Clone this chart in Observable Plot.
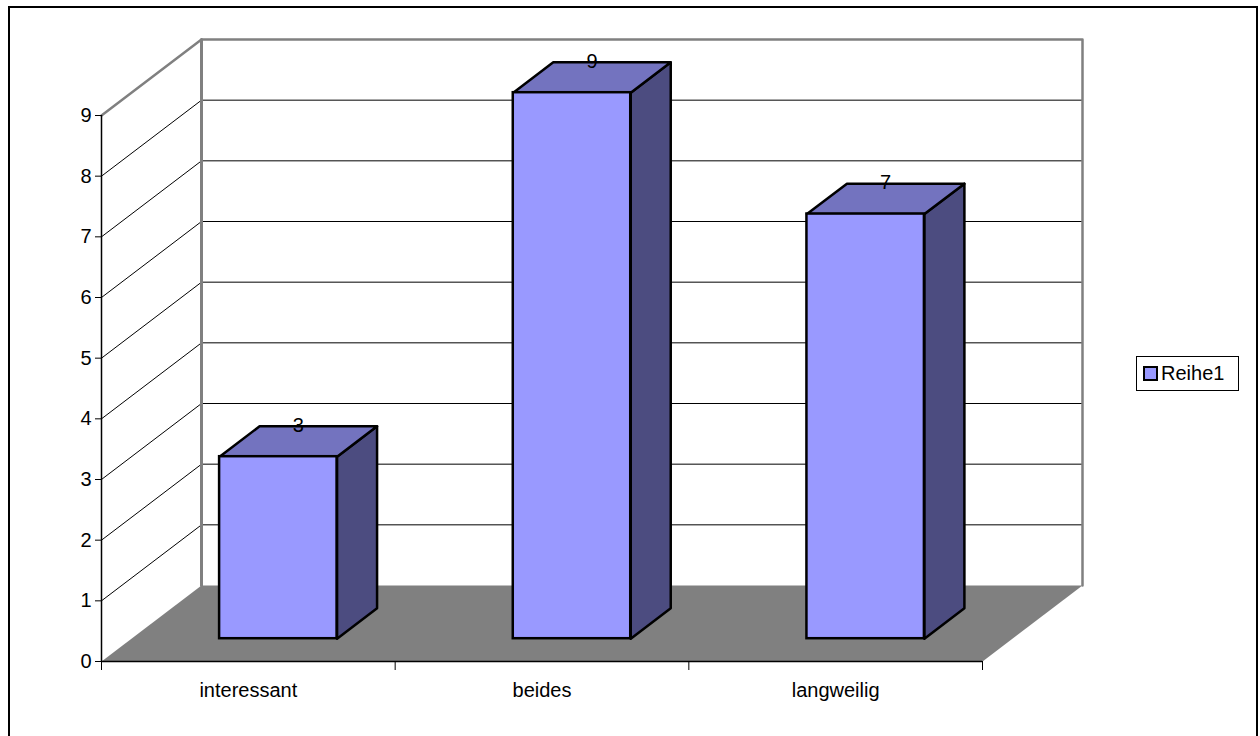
<!DOCTYPE html>
<html>
<head>
<meta charset="utf-8">
<script src="https://cdn.jsdelivr.net/npm/d3@7"></script>
<script src="https://cdn.jsdelivr.net/npm/@observablehq/plot@0.6"></script>
<style>
  body { margin: 0; background: #fff; }
  #frame { position: relative; width: 1260px; height: 736px; overflow: hidden;
           font-family: Arial, "Liberation Sans", sans-serif; background: #fff; }
  #chart { position: absolute; left: 0; top: 0; }
  #border { position: absolute; left: 8px; top: 6px; width: 1250px; height: 780px;
            border: 2px solid #000; box-sizing: border-box; pointer-events: none; }
  #legend { position: absolute; left: 1136px; top: 356px; width: 103px; height: 35px;
            border: 1px solid #000; box-sizing: border-box; background: #fff;
            display: flex; align-items: center; font-size: 20px; color: #000; }
  #legend .swatch { width: 15px; height: 15px; box-sizing: border-box; border: 2px solid #000;
                    margin: 0 3px 0 6px; }
</style>
</head>
<body>
<div id="frame">
  <div id="chart"></div>
  <div id="legend"><span class="swatch"></span><span class="name"></span></div>
  <div id="border"></div>
</div>
<script>
// Survey answers per category
const categories = ["interessant", "beides", "langweilig"];
const values = [3, 9, 7];
const yTicks = [0, 1, 2, 3, 4, 5, 6, 7, 8, 9];
const seriesName = "Reihe1";

const faceFront = "#9999ff";
const faceTop = "#7373bf";
const faceSide = "#4c4c80";

const width = 1260, height = 736;
const marginLeft = 101, marginRight = 278, marginTop = 115, marginBottom = 75;
const n = categories.length;
const yMax = d3.max(yTicks);

// Oblique projection: full floor depth shifts a point 100px right and 76px up.
const unitX = (width - marginLeft - marginRight) / n;
const unitY = (height - marginTop - marginBottom) / yMax;
const DX = 100 / unitX, DY = 76 / unitY;
const P = (u, v, d) => ({x: u + d * DX, y: v + d * DY});

// Walls and floor
const sideWall = [P(0, 0, 0), P(0, 0, 1), P(0, yMax, 1), P(0, yMax, 0)];
const backWall = [P(0, 0, 1), P(n, 0, 1), P(n, yMax, 1), P(0, yMax, 1)];
const floor = [P(0, 0, 0), P(n, 0, 0), P(n, 0, 1), P(0, 0, 1)];
const wallEdge = [P(0, yMax, 0), P(0, yMax, 1), P(n, yMax, 1), P(n, 0, 1)];
const wallCorner = [P(0, 0, 1), P(0, yMax, 1)];

// Gridlines on the side and back walls
const grid = [];
yTicks.filter(v => v > 0 && v < yMax).forEach(v => {
  grid.push({...P(0, v, 0), id: "s" + v}, {...P(0, v, 1), id: "s" + v});
  grid.push({...P(0, v, 1), id: "b" + v}, {...P(n, v, 1), id: "b" + v});
});

// Bar boxes: 40% of the category wide, occupying depth 0.3 .. 0.7
const barW = 0.4, f0 = 0.3, f1 = 0.7;
const fronts = [], tops = [], sides = [], labels = [];
values.forEach((v, i) => {
  const u0 = i + 0.5 - barW / 2, u1 = i + 0.5 + barW / 2;
  const a = P(u0, 0, f0), b = P(u1, v, f0);
  fronts.push({x1: a.x, x2: b.x, y1: a.y, y2: b.y});
  [P(u0, v, f0), P(u1, v, f0), P(u1, v, f1), P(u0, v, f1)].forEach(p => tops.push({...p, id: i}));
  [P(u1, 0, f0), P(u1, v, f0), P(u1, v, f1), P(u1, 0, f1)].forEach(p => sides.push({...p, id: i}));
  labels.push({...P(i + 0.5, v, 0.5), text: String(v)});
});

const poly = (data, fill, extra = {}) =>
  Plot.line(data, {x: "x", y: "y", curve: "linear-closed", fill, stroke: "none", ...extra});

const chart = Plot.plot({
  width, height, marginLeft, marginRight, marginTop, marginBottom,
  style: {fontFamily: 'Arial, "Liberation Sans", sans-serif', background: "transparent", overflow: "visible"},
  x: {type: "linear", domain: [0, n], label: null},
  y: {type: "linear", domain: [0, yMax], label: null},
  marks: [
    poly(sideWall, "#fff"),
    poly(backWall, "#fff"),
    poly(floor, "#808080"),
    Plot.line(grid, {x: "x", y: "y", z: "id", stroke: "#000", strokeWidth: 1}),
    Plot.line(wallEdge, {x: "x", y: "y", stroke: "#808080", strokeWidth: 2.5}),
    Plot.line(wallCorner, {x: "x", y: "y", stroke: "#808080", strokeWidth: 3}),
    Plot.line(sides, {x: "x", y: "y", z: "id", curve: "linear-closed", fill: faceSide,
                      stroke: "#000", strokeWidth: 2.5, strokeLinejoin: "round"}),
    Plot.line(tops, {x: "x", y: "y", z: "id", curve: "linear-closed", fill: faceTop,
                     stroke: "#000", strokeWidth: 2.5, strokeLinejoin: "round"}),
    Plot.rect(fronts, {x1: "x1", x2: "x2", y1: "y1", y2: "y2", fill: faceFront,
                       stroke: "#000", strokeWidth: 2.5}),
    Plot.text(labels, {x: "x", y: "y", text: "text", dy: -16, fontSize: 20, fill: "#000"}),
    Plot.ruleX([0], {y1: 0, y2: yMax, stroke: "#000", strokeWidth: 1.5}),
    Plot.ruleY([0], {x1: 0, x2: n, stroke: "#000", strokeWidth: 1.5}),
    Plot.axisY(yTicks, {tickSize: 6, tickPadding: 4, fontSize: 20, stroke: "#000", fill: "#000",
                        tickFormat: d => String(d)}),
    Plot.axisX(d3.range(n + 1), {tickSize: 9, tickFormat: () => "", stroke: "#000"}),
    Plot.text(categories, {x: (d, i) => i + 0.5, y: () => 0, text: d => d, dy: 29,
                           fontSize: 20, fill: "#000", lineAnchor: "middle"})
  ]
});

document.getElementById("chart").appendChild(chart);
document.querySelector("#legend .swatch").style.background = faceFront;
document.querySelector("#legend .name").textContent = seriesName;
</script>
</body>
</html>
